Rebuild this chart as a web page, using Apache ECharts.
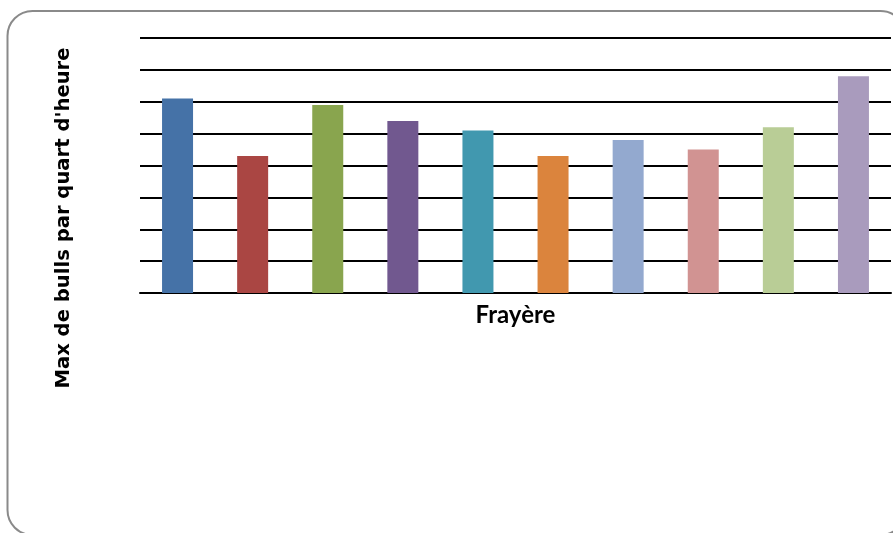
<!DOCTYPE html>
<html>
<head>
<meta charset="utf-8">
<script src="https://cdn.jsdelivr.net/npm/echarts@6/dist/echarts.min.js"></script>
<style>
  html, body { margin: 0; padding: 0; background: #fff; }
  #chart { width: 893px; height: 533px; }
</style>
</head>
<body>
<div id="chart"></div>
<script>
// Spawning sites (one bar each) and the peak bull count per quarter hour
const categories = ['F1', 'F2', 'F3', 'F4', 'F5', 'F6', 'F7', 'F8', 'F9', 'F10'];
const maxBulls = [6.1, 4.3, 5.9, 5.4, 5.1, 4.3, 4.8, 4.5, 5.2, 6.8];
const barColors = ['#4572A7', '#AA4643', '#89A54E', '#71588F', '#4198AF',
                   '#DB843D', '#93A9CF', '#D19392', '#B9CD96', '#A99BBD'];
const yTitle = "Max de bulls par quart d'heure";
const xTitle = 'Frayère';

const chart = echarts.init(document.getElementById('chart'), null, { renderer: 'canvas' });

chart.setOption({
  animation: false,
  backgroundColor: '#fff',
  color: barColors,
  grid: { left: 140, right: 2, top: 38, bottom: 240, containLabel: false },
  xAxis: {
    type: 'category',
    data: categories,
    name: xTitle,
    nameLocation: 'middle',
    nameGap: 10,
    nameTextStyle: { fontFamily: 'Lato', fontWeight: 'bold', fontSize: 24, color: '#000' },
    axisLine: { show: true, lineStyle: { color: '#000', width: 2 } },
    axisTick: { show: false },
    axisLabel: { show: false }
  },
  yAxis: {
    type: 'value',
    min: 0,
    max: 8,
    interval: 1,
    axisLine: { show: false },
    axisTick: { show: false },
    axisLabel: { show: false },
    splitLine: { show: true, lineStyle: { color: '#000', width: 2 } }
  },
  series: [{
    type: 'bar',
    data: maxBulls,
    colorBy: 'data',
    barWidth: 31
  }],
  graphic: [
    {
      type: 'rect',
      shape: { x: 7.5, y: 11, width: 898, height: 524, r: 25 },
      style: { fill: 'none', stroke: '#8a8a8a', lineWidth: 2 },
      z: -1
    },
    {
      type: 'text',
      x: 64,
      y: 218,
      rotation: Math.PI / 2,
      style: {
        text: yTitle,
        fontFamily: 'DejaVu Sans',
        fontWeight: 'bold',
        fontSize: 19.6,
        fill: '#000',
        align: 'center',
        verticalAlign: 'middle'
      }
    }
  ]
});
</script>
</body>
</html>
